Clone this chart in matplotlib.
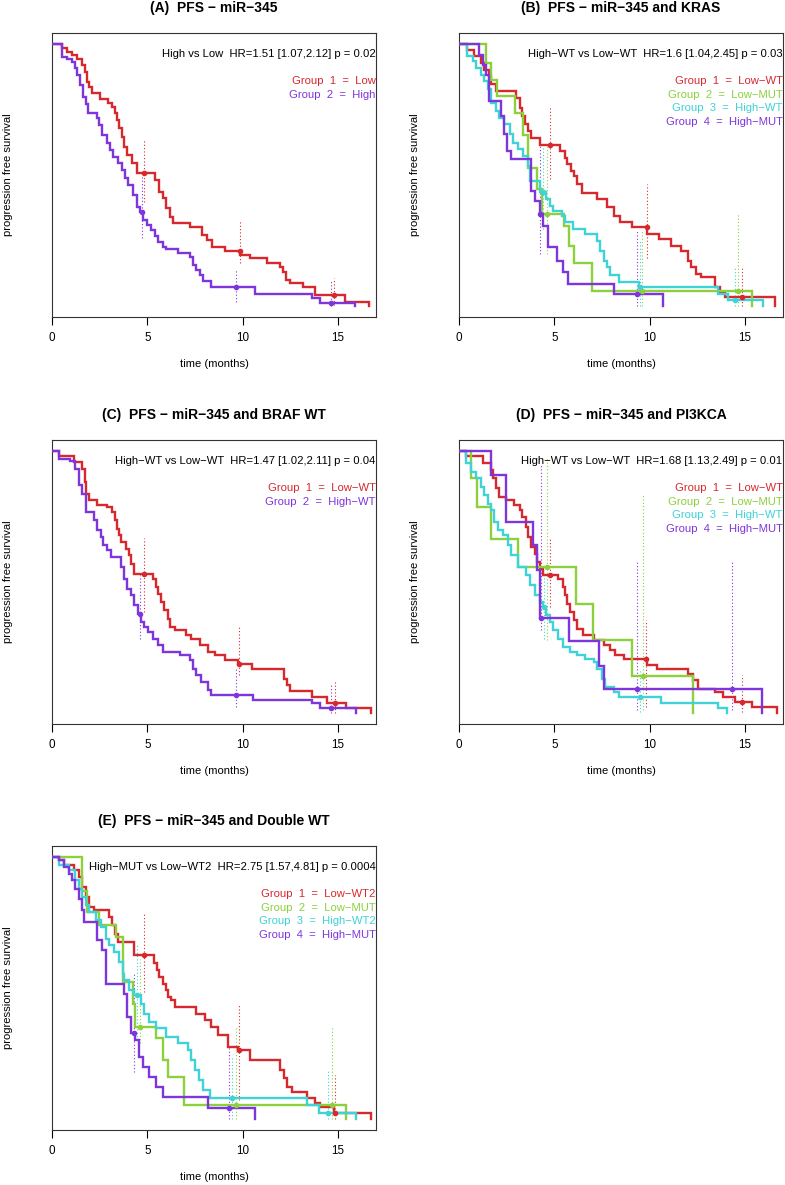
import numpy as np
import matplotlib
matplotlib.use('Agg')
import matplotlib.pyplot as plt

plt.rcParams['font.family'] = ['Liberation Sans', 'DejaVu Sans']

RED = '#d7282d'
GREEN = '#8cd03c'
CYAN = '#3fd2d6'
PURPLE = '#7f35dc'

# ---- (A) PFS - miR-345 ----
a_low_t = [0.51, 0.77, 1.03, 1.33, 1.56, 1.73, 1.85, 1.96, 2.08, 2.52, 2.95, 3.13, 3.30, 3.42,
           3.53, 3.65, 3.78, 3.92, 4.18, 4.44, 5.40, 5.63, 5.84, 6.00, 6.19, 6.36, 7.24, 7.85,
           8.11, 8.37, 9.07, 9.86, 10.38, 11.26, 11.96, 12.13, 12.27, 12.48, 13.18, 13.79, 15.36, 16.64]
a_low_s = [0.984, 0.969, 0.956, 0.943, 0.918, 0.893, 0.855, 0.833, 0.810, 0.790, 0.773, 0.757, 0.735, 0.709,
           0.678, 0.646, 0.608, 0.576, 0.545, 0.506, 0.481, 0.437, 0.411, 0.373, 0.341, 0.319, 0.301, 0.272,
           0.253, 0.227, 0.212, 0.196, 0.183, 0.167, 0.151, 0.132, 0.101, 0.090, 0.075, 0.045, 0.018, 0.0]
a_high_t = [0.50, 0.77, 1.03, 1.21, 1.33, 1.47, 1.61, 1.78, 1.90, 2.34, 2.48, 2.60, 2.87, 3.04, 3.21,
            3.48, 3.65, 3.83, 4.00, 4.23, 4.44, 4.61, 4.79, 4.96, 5.17, 5.40, 5.57, 5.84, 6.00, 6.62,
            7.24, 7.38, 7.55, 7.76, 7.93, 8.32, 10.65, 13.62, 14.05, 15.89]
a_high_s = [0.950, 0.940, 0.931, 0.906, 0.880, 0.842, 0.798, 0.770, 0.735, 0.716, 0.690, 0.652, 0.621, 0.595, 0.570,
            0.545, 0.519, 0.490, 0.462, 0.424, 0.380, 0.360, 0.329, 0.310, 0.291, 0.268, 0.246, 0.227, 0.219, 0.205,
            0.190, 0.158, 0.139, 0.120, 0.098, 0.075, 0.046, 0.031, 0.014, 0.0]
a_low_ci = ([4.82, 9.84, 14.80], [0.398, 0.164, 0.005], [0.633, 0.329, 0.107])
a_high_ci = ([4.70, 9.65, 14.63], [0.259, 0.018, 0.0], [0.494, 0.139, 0.100])

# ---- (B) PFS - miR-345 and KRAS ----
b_lowwt_t = [0.44, 0.79, 1.15, 1.32, 1.55, 1.68, 1.94, 3.00, 3.18, 3.32, 3.44, 3.62, 3.79, 4.24, 5.29,
             5.56, 5.68, 5.86, 6.03, 6.21, 6.44, 7.23, 7.76, 8.12, 8.47, 9.09, 9.88, 10.50, 11.12, 11.65,
             12.00, 12.18, 12.44, 12.71, 13.41, 13.68, 13.94, 16.59]
b_lowwt_s = [0.977, 0.952, 0.926, 0.901, 0.876, 0.845, 0.819, 0.794, 0.756, 0.724, 0.693, 0.668, 0.642, 0.614, 0.592,
             0.566, 0.541, 0.516, 0.497, 0.465, 0.431, 0.408, 0.377, 0.345, 0.320, 0.301, 0.276, 0.257, 0.231, 0.212,
             0.174, 0.149, 0.124, 0.111, 0.073, 0.054, 0.035, 0.0]
b_lowmut_t = [1.43, 1.69, 2.01, 2.93, 3.37, 3.63, 4.08, 4.34, 5.49, 5.75, 6.02, 6.99, 15.37]
b_lowmut_s = [0.925, 0.862, 0.799, 0.736, 0.654, 0.527, 0.446, 0.351, 0.306, 0.230, 0.167, 0.059, 0.0]
b_highwt_t = [0.44, 0.71, 0.88, 1.15, 1.32, 1.50, 1.68, 1.94, 2.12, 2.38, 2.65, 2.82, 3.09, 3.35, 3.62,
              3.71, 4.24, 4.59, 4.76, 4.94, 5.38, 5.56, 6.00, 6.62, 7.23, 7.41, 7.59, 7.76, 7.94, 8.38,
              9.44, 13.59, 14.12, 15.97]
b_highwt_s = [0.952, 0.933, 0.908, 0.882, 0.857, 0.826, 0.775, 0.743, 0.718, 0.693, 0.655, 0.623, 0.598, 0.573, 0.535,
              0.478, 0.434, 0.408, 0.383, 0.364, 0.345, 0.320, 0.295, 0.276, 0.250, 0.212, 0.174, 0.149, 0.118, 0.092,
              0.073, 0.048, 0.025, 0.0]
b_highmut_t = [1.06, 1.24, 1.41, 1.59, 2.21, 2.38, 2.51, 2.74, 3.79, 3.97, 4.24, 4.41, 4.68, 5.12, 5.47,
               5.73, 8.12, 10.68]
b_highmut_s = [0.958, 0.920, 0.882, 0.781, 0.724, 0.655, 0.591, 0.560, 0.440, 0.402, 0.351, 0.307, 0.225, 0.174,
               0.130, 0.086, 0.048, 0.0]
b_lowwt_ci = ([4.76, 9.85, 14.86], [0.483, 0.186, 0.0], [0.761, 0.464, 0.154])
b_lowmut_ci = ([4.60, 9.62, 14.65], [0.198, 0.0, 0.0], [0.609, 0.287, 0.350])
b_highwt_ci = ([4.43, 9.48, 14.47], [0.293, 0.0, 0.0], [0.609, 0.249, 0.154])
b_highmut_ci = ([4.27, 9.32], [0.198, 0.0], [0.609, 0.287])

# ---- (C) PFS - miR-345 and BRAF WT ----
c_lowwt_t = [0.35, 1.14, 1.58, 1.71, 1.81, 1.94, 2.38, 2.90, 3.17, 3.29, 3.40, 3.52, 3.64, 3.87, 4.05,
             4.17, 4.31, 5.28, 5.46, 5.58, 5.72, 5.90, 6.07, 6.21, 6.43, 7.04, 7.31, 7.75, 8.19, 8.54,
             9.07, 9.77, 10.48, 12.15, 12.32, 12.50, 13.64, 14.44, 15.40, 16.73]
c_lowwt_s = [0.981, 0.955, 0.930, 0.880, 0.835, 0.810, 0.791, 0.785, 0.766, 0.734, 0.703, 0.677, 0.652, 0.627, 0.601,
             0.570, 0.532, 0.513, 0.481, 0.456, 0.424, 0.392, 0.361, 0.329, 0.316, 0.300, 0.285, 0.259, 0.234, 0.222,
             0.203, 0.190, 0.171, 0.133, 0.108, 0.085, 0.063, 0.038, 0.019, 0.0]
c_highwt_t = [0.35, 0.97, 1.23, 1.41, 1.58, 1.76, 2.20, 2.38, 2.55, 2.69, 2.87, 3.08, 3.61, 3.79, 3.93,
              4.17, 4.31, 4.49, 4.67, 4.81, 5.02, 5.28, 5.55, 5.81, 6.69, 7.22, 7.39, 7.57, 7.83, 8.19,
              8.36, 10.56, 13.64, 14.08, 15.93]
c_highwt_s = [0.968, 0.962, 0.930, 0.867, 0.835, 0.766, 0.734, 0.696, 0.671, 0.639, 0.620, 0.595, 0.557, 0.513, 0.475,
              0.449, 0.411, 0.380, 0.348, 0.329, 0.310, 0.285, 0.259, 0.234, 0.222, 0.203, 0.171, 0.146, 0.120, 0.089,
              0.070, 0.051, 0.038, 0.019, 0.0]
c_lowwt_ci = ([4.81, 9.82, 14.84], [0.386, 0.146, 0.0], [0.667, 0.335, 0.127])
c_highwt_ci = ([4.63, 9.65, 14.65], [0.285, 0.025, 0.0], [0.525, 0.171, 0.108])

# ---- (D) PFS - miR-345 and PI3KCA ----
d_lowwt_t = [0.35, 1.24, 1.68, 1.76, 1.94, 2.12, 2.47, 2.91, 3.18, 3.32, 3.49, 3.62, 3.79, 3.97, 4.09,
             4.24, 4.41, 5.20, 5.47, 5.56, 5.68, 5.82, 6.03, 6.21, 6.53, 7.06, 7.59, 7.94, 8.20, 8.64,
             9.88, 10.41, 12.00, 12.26, 12.53, 13.41, 13.85, 14.47, 15.35, 16.68]
d_lowwt_s = [0.980, 0.951, 0.925, 0.894, 0.856, 0.824, 0.811, 0.792, 0.773, 0.748, 0.710, 0.672, 0.634, 0.608, 0.577,
             0.551, 0.526, 0.513, 0.482, 0.450, 0.418, 0.387, 0.355, 0.323, 0.298, 0.279, 0.260, 0.241, 0.222, 0.209,
             0.184, 0.171, 0.152, 0.127, 0.095, 0.082, 0.063, 0.044, 0.025, 0.0]
d_lowmut_t = [0.64, 0.92, 1.69, 3.11, 6.16, 7.02, 9.07, 12.28]
d_lowmut_s = [0.894, 0.786, 0.665, 0.558, 0.418, 0.279, 0.142, 0.0]
d_highwt_t = [0.35, 0.62, 0.88, 1.15, 1.32, 1.50, 1.68, 1.85, 2.03, 2.29, 2.56, 2.74, 3.09, 3.53, 3.71,
              3.97, 4.24, 4.41, 4.59, 4.76, 4.94, 5.20, 5.47, 5.82, 6.18, 6.62, 7.06, 7.23, 7.50, 7.68,
              8.12, 8.40, 10.59, 13.60, 14.08]
d_highwt_s = [0.951, 0.919, 0.894, 0.862, 0.830, 0.798, 0.773, 0.729, 0.697, 0.678, 0.640, 0.602, 0.558, 0.526, 0.488,
              0.450, 0.425, 0.406, 0.374, 0.349, 0.317, 0.285, 0.253, 0.234, 0.222, 0.209, 0.196, 0.171, 0.133, 0.101,
              0.082, 0.063, 0.038, 0.019, 0.0]
d_highmut_t = [1.69, 2.49, 3.90, 4.08, 4.25, 5.75, 7.34, 7.61, 15.90]
d_highmut_s = [0.906, 0.729, 0.640, 0.545, 0.365, 0.275, 0.180, 0.095, 0.0]
d_lowwt_ci = ([4.78, 9.81, 14.84], [0.406, 0.025, 0.006], [0.672, 0.355, 0.146])
d_lowmut_ci = ([4.60, 9.63], [0.279, 0.013], [0.976, 0.836])
d_highwt_ci = ([4.46, 9.49], [0.285, 0.006], [0.526, 0.171])
d_highmut_ci = ([4.29, 9.32, 14.35], [0.317, 0.013, 0.013], [0.944, 0.583, 0.583])

# ---- (E) PFS - miR-345 and Double WT ----
e_lowwt_t = [0.35, 0.62, 1.14, 1.41, 1.58, 1.76, 1.94, 2.20, 2.99, 3.17, 3.29, 3.47, 4.31, 5.37, 5.51,
             5.63, 5.81, 5.99, 6.11, 6.25, 6.43, 7.57, 8.01, 8.36, 8.71, 9.24, 9.77, 10.39, 11.97, 12.15,
             12.32, 12.59, 13.38, 13.82, 14.08, 14.79, 16.73]
e_lowwt_s = [0.985, 0.966, 0.947, 0.922, 0.884, 0.846, 0.808, 0.795, 0.770, 0.738, 0.706, 0.675, 0.627, 0.594, 0.567,
             0.542, 0.516, 0.491, 0.466, 0.453, 0.428, 0.403, 0.377, 0.352, 0.320, 0.276, 0.263, 0.225, 0.187, 0.156,
             0.124, 0.105, 0.080, 0.061, 0.048, 0.025, 0.0]
e_lowmut_t = [1.60, 1.85, 2.46, 3.35, 3.75, 4.23, 4.35, 5.46, 5.81, 6.07, 6.95, 15.40]
e_lowmut_s = [0.870, 0.789, 0.738, 0.694, 0.523, 0.441, 0.352, 0.308, 0.225, 0.162, 0.054, 0.0]
e_highwt_t = [0.35, 0.88, 1.23, 1.41, 1.58, 1.76, 1.94, 2.29, 2.55, 2.82, 2.99, 3.26, 3.52, 3.70, 3.79,
              4.05, 4.31, 4.67, 4.84, 5.11, 5.46, 5.99, 6.60, 7.13, 7.31, 7.52, 7.69, 7.92, 8.27, 13.38,
              14.03, 15.93]
e_highwt_s = [0.966, 0.947, 0.909, 0.877, 0.846, 0.814, 0.789, 0.757, 0.732, 0.687, 0.662, 0.637, 0.599, 0.554, 0.529,
              0.491, 0.472, 0.441, 0.403, 0.371, 0.346, 0.314, 0.289, 0.263, 0.225, 0.187, 0.149, 0.111, 0.080, 0.054,
              0.025, 0.0]
e_highmut_t = [0.35, 0.62, 0.88, 1.06, 1.23, 1.41, 1.58, 1.67, 2.38, 2.64, 2.82, 3.79, 3.96, 4.17, 4.35,
               4.58, 4.75, 5.11, 5.46, 5.81, 8.19, 10.65]
e_highmut_s = [0.985, 0.959, 0.934, 0.909, 0.877, 0.839, 0.795, 0.751, 0.681, 0.643, 0.516, 0.478, 0.390, 0.327, 0.301,
               0.238, 0.200, 0.162, 0.124, 0.086, 0.042, 0.0]
e_lowwt_ci = ([4.81, 9.82, 14.84], [0.485, 0.073, 0.0], [0.782, 0.440, 0.168])
e_lowmut_ci = ([4.63, 9.65, 14.67], [0.289, 0.0, 0.0], [0.611, 0.352, 0.352])
e_highwt_ci = ([4.45, 9.47, 14.49], [0.301, 0.0, 0.0], [0.662, 0.238, 0.187])
e_highmut_ci = ([4.28, 9.30], [0.181, 0.0], [0.554, 0.270])

M = '\u2212'  # R draws '-' as a minus sign
FS = 8.1


def km_panel(ax, title, hr_text, groups):
    for t, s, ci, col, lab in groups:
        tt = np.r_[0.0, t]
        ss = np.r_[1.0, s]
        ax.step(tt, ss, where='post', color=col, lw=1.7, solid_joinstyle='miter', zorder=3)
        ct, lo, hi = ci
        ax.vlines(ct, lo, hi, colors=col, linestyles=(0, (1, 2)), lw=0.8, zorder=2)
        idx = np.searchsorted(tt, ct, side='right') - 1
        ax.plot(ct, ss[idx], 'o', color=col, ms=3, zorder=4)

    ax.set_xlim(0, 17)
    ax.set_ylim(-0.04, 1.04)
    ax.set_xticks([0, 5, 10, 15])
    ax.set_yticks([])
    ax.tick_params(axis='x', length=5.5, width=0.8, pad=5.5, labelsize=8.4)
    for sp in ax.spines.values():
        sp.set_linewidth(0.8)
        sp.set_color('#333333')

    ax.set_title(title, fontsize=10.0, fontweight='bold', pad=15)
    ax.text(-0.137, 0.5, 'progression free survival', transform=ax.transAxes,
            rotation=90, ha='center', va='center', fontsize=FS)
    ax.text(0.5, -0.165, 'time (months)', transform=ax.transAxes,
            ha='center', va='center', fontsize=FS)
    ax.text(16.98, 0.96, hr_text, ha='right', va='center', fontsize=FS)
    for i, (t, s, ci, col, lab) in enumerate(groups):
        ax.text(16.98, 0.858 - 0.052 * i, 'Group  %d  =  %s' % (i + 1, lab),
                ha='right', va='center', fontsize=FS, color=col)


fig = plt.figure(figsize=(7.85, 11.85), dpi=100)
W, H = 785.0, 1185.0


def add_panel(left, top):
    return fig.add_axes([left / W, 1 - (top + 284) / H, 324 / W, 284 / H])


axA = add_panel(52, 33)
axB = add_panel(459, 33)
axC = add_panel(52, 440)
axD = add_panel(459, 440)
axE = add_panel(52, 846)

km_panel(axA, '(A)  PFS ' + M + ' miR' + M + '345',
         'High vs Low  HR=1.51 [1.07,2.12] p = 0.02',
         [(a_low_t, a_low_s, a_low_ci, RED, 'Low'),
          (a_high_t, a_high_s, a_high_ci, PURPLE, 'High')])

km_panel(axB, '(B)  PFS ' + M + ' miR' + M + '345 and KRAS',
         'High' + M + 'WT vs Low' + M + 'WT  HR=1.6 [1.04,2.45] p = 0.03',
         [(b_lowwt_t, b_lowwt_s, b_lowwt_ci, RED, 'Low' + M + 'WT'),
          (b_lowmut_t, b_lowmut_s, b_lowmut_ci, GREEN, 'Low' + M + 'MUT'),
          (b_highwt_t, b_highwt_s, b_highwt_ci, CYAN, 'High' + M + 'WT'),
          (b_highmut_t, b_highmut_s, b_highmut_ci, PURPLE, 'High' + M + 'MUT')])

km_panel(axC, '(C)  PFS ' + M + ' miR' + M + '345 and BRAF WT',
         'High' + M + 'WT vs Low' + M + 'WT  HR=1.47 [1.02,2.11] p = 0.04',
         [(c_lowwt_t, c_lowwt_s, c_lowwt_ci, RED, 'Low' + M + 'WT'),
          (c_highwt_t, c_highwt_s, c_highwt_ci, PURPLE, 'High' + M + 'WT')])

km_panel(axD, '(D)  PFS ' + M + ' miR' + M + '345 and PI3KCA',
         'High' + M + 'WT vs Low' + M + 'WT  HR=1.68 [1.13,2.49] p = 0.01',
         [(d_lowwt_t, d_lowwt_s, d_lowwt_ci, RED, 'Low' + M + 'WT'),
          (d_lowmut_t, d_lowmut_s, d_lowmut_ci, GREEN, 'Low' + M + 'MUT'),
          (d_highwt_t, d_highwt_s, d_highwt_ci, CYAN, 'High' + M + 'WT'),
          (d_highmut_t, d_highmut_s, d_highmut_ci, PURPLE, 'High' + M + 'MUT')])

km_panel(axE, '(E)  PFS ' + M + ' miR' + M + '345 and Double WT',
         'High' + M + 'MUT vs Low' + M + 'WT2  HR=2.75 [1.57,4.81] p = 0.0004',
         [(e_lowwt_t, e_lowwt_s, e_lowwt_ci, RED, 'Low' + M + 'WT2'),
          (e_lowmut_t, e_lowmut_s, e_lowmut_ci, GREEN, 'Low' + M + 'MUT'),
          (e_highwt_t, e_highwt_s, e_highwt_ci, CYAN, 'High' + M + 'WT2'),
          (e_highmut_t, e_highmut_s, e_highmut_ci, PURPLE, 'High' + M + 'MUT')])

fig.savefig('out.png', dpi=100, facecolor='white')
